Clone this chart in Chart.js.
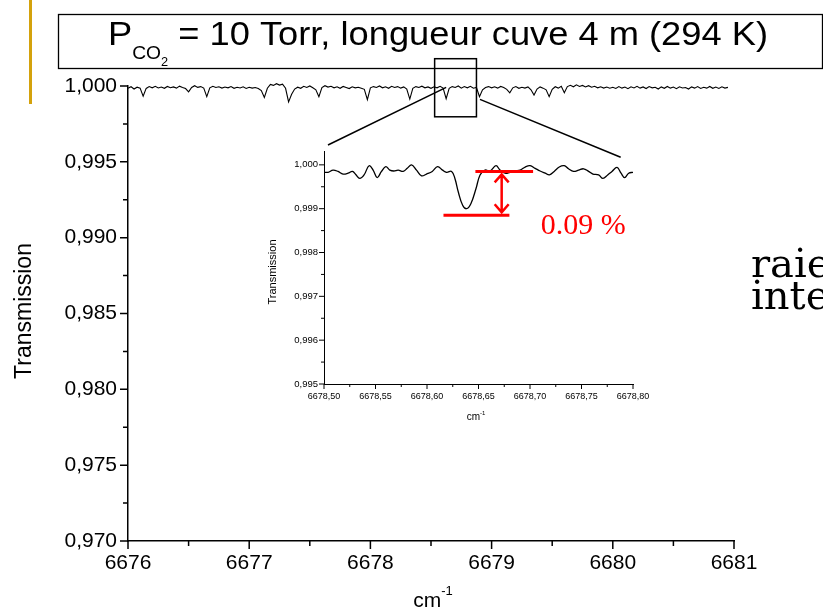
<!DOCTYPE html>
<html><head><meta charset="utf-8">
<script src="https://cdn.jsdelivr.net/npm/chart.js@4.4.1/dist/chart.umd.min.js"></script>
<style>
html,body{margin:0;padding:0;background:#fff;}
#wrap{position:relative;width:823px;height:615px;overflow:hidden;background:#fff;}
#main{position:absolute;left:0;top:0;}
#inset{position:absolute;left:250px;top:140px;}
</style></head><body>
<div id="wrap"><canvas id="main" width="823" height="615"></canvas><canvas id="inset" width="420" height="300"></canvas></div>
<script>
// ---------- DATA ----------
const mainX = [
6676.000,6676.025,6676.050,6676.075,6676.100,6676.125,6676.150,6676.175,6676.200,6676.225,
6676.250,6676.275,6676.300,6676.325,6676.350,6676.375,6676.400,6676.425,6676.450,6676.475,
6676.500,6676.525,6676.550,6676.575,6676.600,6676.625,6676.650,6676.675,6676.700,6676.725,
6676.750,6676.775,6676.800,6676.825,6676.850,6676.875,6676.900,6676.925,6676.950,6676.975,
6677.000,6677.025,6677.050,6677.075,6677.100,6677.125,6677.150,6677.175,6677.200,6677.225,
6677.250,6677.275,6677.300,6677.325,6677.350,6677.375,6677.400,6677.425,6677.450,6677.475,
6677.500,6677.525,6677.550,6677.575,6677.600,6677.625,6677.650,6677.675,6677.700,6677.725,
6677.750,6677.775,6677.800,6677.825,6677.850,6677.875,6677.900,6677.925,6677.950,6677.975,
6678.000,6678.025,6678.050,6678.075,6678.100,6678.125,6678.150,6678.175,6678.200,6678.225,
6678.250,6678.275,6678.300,6678.325,6678.350,6678.375,6678.400,6678.425,6678.450,6678.475,
6678.500,6678.525,6678.550,6678.575,6678.600,6678.625,6678.650,6678.675,6678.700,6678.725,
6678.750,6678.775,6678.800,6678.825,6678.850,6678.875,6678.900,6678.925,6678.950,6678.975,
6679.000,6679.025,6679.050,6679.075,6679.100,6679.125,6679.150,6679.175,6679.200,6679.225,
6679.250,6679.275,6679.300,6679.325,6679.350,6679.375,6679.400,6679.425,6679.450,6679.475,
6679.500,6679.525,6679.550,6679.575,6679.600,6679.625,6679.650,6679.675,6679.700,6679.725,
6679.750,6679.775,6679.800,6679.825,6679.850,6679.875,6679.900,6679.925,6679.950,6679.975,
6680.000,6680.025,6680.050,6680.075,6680.100,6680.125,6680.150,6680.175,6680.200,6680.225,
6680.250,6680.275,6680.300,6680.325,6680.350,6680.375,6680.400,6680.425,6680.450,6680.475,
6680.500,6680.525,6680.550,6680.575,6680.600,6680.625,6680.650,6680.675,6680.700,6680.725,
6680.750,6680.775,6680.800,6680.825,6680.850,6680.875,6680.900,6680.925,6680.950
];
const mainY = [
0.99985,0.99995,0.99980,0.99992,0.99986,0.99932,0.99984,0.99996,0.99988,0.99998,
0.99987,0.99993,0.99985,0.99997,0.99989,0.99994,0.99986,0.99999,0.99990,0.99983,
0.99962,0.99990,1.00002,0.99991,0.99996,0.99986,0.99930,0.99988,0.99998,0.99990,
0.99995,0.99986,0.99993,0.99988,0.99996,0.99985,0.99992,0.99987,0.99995,0.99984,
0.99992,0.99986,0.99990,0.99984,0.99970,0.99925,0.99985,1.00010,1.00004,1.00015,
1.00006,1.00012,0.99985,0.99895,0.99945,0.99980,0.99992,0.99985,0.99998,0.99990,
1.00000,0.99988,0.99975,0.99930,0.99990,1.00002,0.99993,0.99998,0.99988,0.99995,
0.99985,0.99997,0.99990,0.99983,0.99995,0.99988,0.99992,0.99985,0.99978,0.99910,
0.99988,0.99996,0.99990,1.00000,0.99988,0.99995,0.99985,0.99998,0.99990,0.99996,
0.99986,0.99994,0.99980,0.99914,0.99985,0.99996,0.99990,0.99999,0.99988,0.99994,
0.99985,0.99995,0.99988,0.99998,0.99986,0.99916,0.99985,0.99996,0.99990,1.00000,
0.99986,0.99996,0.99988,0.99998,0.99985,0.99990,0.99930,0.99975,0.99990,0.99996,
0.99988,0.99995,0.99986,0.99997,0.99990,0.99978,0.99955,0.99988,0.99996,0.99985,
0.99992,0.99986,0.99994,0.99975,0.99940,0.99980,0.99994,0.99986,0.99975,0.99930,
0.99978,0.99995,0.99986,0.99998,0.99955,0.99996,1.00005,0.99995,1.00008,0.99997,
1.00004,0.99994,1.00002,0.99992,0.99998,0.99988,0.99995,0.99986,0.99993,0.99985,
0.99992,0.99984,0.99996,0.99986,0.99993,0.99982,0.99995,0.99987,0.99998,0.99986,
0.99994,0.99983,0.99996,0.99988,0.99992,0.99980,0.99994,0.99985,0.99997,0.99986,
0.99993,0.99982,0.99995,0.99987,0.99990,0.99980,0.99994,0.99986,0.99996,0.99984,
0.99992,0.99986,0.99997,0.99985,0.99993,0.99984,0.99995,0.99986,0.99991
];
const mainXMajor = [6676, 6677, 6678, 6679, 6680, 6681];
const mainXLabels = ['6676', '6677', '6678', '6679', '6680', '6681'];
const mainXMinor = [6676.5, 6677.5, 6678.5, 6679.5, 6680.5];
const mainYMajor = [0.970, 0.975, 0.980, 0.985, 0.990, 0.995, 1.000];
const mainYLabels = ['0,970', '0,975', '0,980', '0,985', '0,990', '0,995', '1,000'];
const mainYMinor = [0.9725, 0.9775, 0.9825, 0.9875, 0.9925, 0.9975];

const insetX = [
6678.5000,6678.5039,6678.5088,6678.5136,6678.5185,6678.5234,6678.5276,6678.5308,6678.5347,6678.5389,
6678.5438,6678.5477,6678.5516,6678.5558,6678.5600,6678.5639,6678.5678,6678.5720,6678.5769,6678.5808,
6678.5850,6678.5898,6678.5947,6678.5995,6678.6051,6678.6103,6678.6151,6678.6190,6678.6239,6678.6271,
6678.6304,6678.6346,6678.6385,6678.6427,6678.6476,6678.6515,6678.6563,6678.6612,6678.6670,6678.6709,
6678.6758,6678.6806,6678.6855,6678.6904,6678.6953,6678.7001,6678.7050,6678.7098,6678.7147,6678.7189,
6678.7235,6678.7284,6678.7332,6678.7374,6678.7423,6678.7472,6678.7520,6678.7569,6678.7611,6678.7666,
6678.7708,6678.7754,6678.7796,6678.7845,6678.7884,6678.7919,6678.7958,6678.8000
];
const insetY = [
0.99983,0.99983,0.99988,0.99985,0.99979,0.99981,0.99985,0.99978,0.99969,0.99977,
0.99998,0.99988,0.99971,0.99985,0.99996,0.99988,0.99986,0.99988,0.99985,0.99992,
1.00000,0.99988,0.99975,0.99979,0.99985,0.99996,0.99988,0.99983,0.99985,0.99969,
0.99938,0.99908,0.99900,0.99912,0.99946,0.99977,0.99988,0.99986,0.99998,0.99988,
0.99981,0.99983,0.99986,0.99988,0.99995,0.99998,0.99992,0.99986,0.99981,0.99977,
0.99985,0.99995,0.99998,0.99991,0.99985,0.99988,0.99991,0.99985,0.99979,0.99977,
0.99969,0.99977,0.99985,0.99994,0.99981,0.99971,0.99981,0.99983
];
const insetXMajor = [6678.50, 6678.55, 6678.60, 6678.65, 6678.70, 6678.75, 6678.80];
const insetXLabels = ['6678,50', '6678,55', '6678,60', '6678,65', '6678,70', '6678,75', '6678,80'];
const insetXMinor = [6678.525, 6678.575, 6678.625, 6678.675, 6678.725, 6678.775];
const insetYMajor = [0.995, 0.996, 0.997, 0.998, 0.999, 1.000];
const insetYLabels = ['0,995', '0,996', '0,997', '0,998', '0,999', '1,000'];
const insetYMinor = [0.9955, 0.9965, 0.9975, 0.9985, 0.9995];
// depth annotation: baseline level and line-minimum level
const depthLevels = [0.99985, 0.99885];
const depthLabel = '0.09 %';

// ---------- HELPERS ----------
const SANS = "'Liberation Sans', Arial, sans-serif";
function drawTicks(ctx, area, xs, ys, o) {
  ctx.save();
  ctx.strokeStyle = '#000';
  ctx.lineWidth = o.lw;
  ctx.beginPath();
  const tx = (v, len) => { const x = xs.getPixelForValue(v); ctx.moveTo(x, area.bottom); ctx.lineTo(x, area.bottom + len); };
  const ty = (v, len) => { const y = ys.getPixelForValue(v); ctx.moveTo(area.left, y); ctx.lineTo(area.left - len, y); };
  o.xMaj.forEach(v => tx(v, o.maj)); o.xMin.forEach(v => tx(v, o.min));
  o.yMaj.forEach(v => ty(v, o.maj)); o.yMin.forEach(v => ty(v, o.min));
  ctx.stroke();
  ctx.restore();
}
function drawCm(ctx, cx, base, size) {
  ctx.save();
  ctx.fillStyle = '#000';
  ctx.font = size + 'px ' + SANS;
  const w1 = ctx.measureText('cm').width;
  const s2 = Math.round(size * 0.6);
  ctx.font = s2 + 'px ' + SANS;
  const w2 = ctx.measureText('-1').width;
  const x0 = cx - (w1 + w2) / 2;
  ctx.textAlign = 'left';
  ctx.textBaseline = 'alphabetic';
  ctx.font = size + 'px ' + SANS;
  ctx.fillText('cm', x0, base);
  ctx.font = s2 + 'px ' + SANS;
  ctx.fillText('-1', x0 + w1, base - size * 0.55);
  ctx.restore();
}
function drawVText(ctx, text, cx, cy, size) {
  ctx.save();
  ctx.translate(cx, cy);
  ctx.rotate(-Math.PI / 2);
  ctx.font = size + 'px ' + SANS;
  ctx.fillStyle = '#000';
  ctx.textAlign = 'center';
  ctx.textBaseline = 'middle';
  ctx.fillText(text, 0, 0);
  ctx.restore();
}

// ---------- MAIN CHART ----------
const mainPlugin = {
  id: 'mainDeco',
  afterDraw(chart) {
    const ctx = chart.ctx, a = chart.chartArea, xs = chart.scales.x, ys = chart.scales.y;
    drawTicks(ctx, a, xs, ys, { xMaj: mainXMajor, xMin: mainXMinor, yMaj: mainYMajor, yMin: mainYMinor, maj: 8, min: 5, lw: 1.5 });
    ctx.save();
    // yellow slide bar
    ctx.fillStyle = '#D4A20C';
    ctx.fillRect(29, 0, 3, 104);
    // title box
    ctx.strokeStyle = '#000';
    ctx.lineWidth = 1.3;
    ctx.strokeRect(58.5, 14.5, 764, 54);
    // title text (condensed to the box width)
    const parts = [
      { t: 'P', size: 34, dy: 0 },
      { t: 'CO', size: 18, dy: 14 },
      { t: '2', size: 12, dy: 21 },
      { t: ' = 10 Torr, longueur cuve 4 m (294 K)', size: 34, dy: 0 }
    ];
    let w = 0;
    parts.forEach(p => { ctx.font = p.size + 'px ' + SANS; p.w = ctx.measureText(p.t).width; w += p.w; });
    const x0 = 108, x1 = 768, base = 45, sx = (x1 - x0) / w;
    ctx.save();
    ctx.translate(x0, 0);
    ctx.scale(sx, 1);
    ctx.fillStyle = '#000';
    let xx = 0;
    parts.forEach(p => { ctx.font = p.size + 'px ' + SANS; ctx.fillText(p.t, xx, base + p.dy); xx += p.w; });
    ctx.restore();
    // zoom box on main spectrum
    const bx0 = xs.getPixelForValue(6678.53), bx1 = xs.getPixelForValue(6678.875);
    const by0 = ys.getPixelForValue(1.0018), by1 = ys.getPixelForValue(0.99797);
    ctx.lineWidth = 1.5;
    ctx.strokeRect(bx0, by0, bx1 - bx0, by1 - by0);
    // connectors to the inset
    ctx.beginPath();
    ctx.moveTo(xs.getPixelForValue(6678.625), ys.getPixelForValue(0.99991));
    ctx.lineTo(xs.getPixelForValue(6677.650), ys.getPixelForValue(0.99611));
    ctx.moveTo(xs.getPixelForValue(6678.904), ys.getPixelForValue(0.99912));
    ctx.lineTo(xs.getPixelForValue(6680.065), ys.getPixelForValue(0.99530));
    ctx.stroke();
    // slide text on the right (cut by the page edge)
    ctx.fillStyle = '#000';
    ctx.font = "40px 'DejaVu Serif', serif";
    ctx.fillText('raie', 751, 277);
    ctx.fillText('inte', 751, 309);
    ctx.restore();
    // axis titles
    drawVText(ctx, 'Transmission', 25, 311, 23);
    drawCm(ctx, 433, 607, 21);
  }
};

new Chart(document.getElementById('main'), {
  type: 'line',
  data: { datasets: [{ data: mainX.map((x, i) => ({ x: x, y: mainY[i] })), borderColor: '#000', borderWidth: 1.1, pointRadius: 0, tension: 0, fill: false, clip: false }] },
  options: {
    responsive: false, animation: false, events: [],
    layout: { padding: { top: 86, right: 89, left: 0, bottom: 0 } },
    plugins: { legend: { display: false }, tooltip: { enabled: false } },
    scales: {
      x: {
        type: 'linear', min: 6676, max: 6681,
        afterBuildTicks: s => { s.ticks = mainXMajor.map(v => ({ value: v })); },
        afterFit: s => { s.height = 74; },
        grid: { display: false, drawTicks: false, tickLength: 0 },
        border: { display: true, color: '#000', width: 1.5 },
        ticks: { autoSkip: false, maxRotation: 0, padding: 10, color: '#000', font: { family: SANS, size: 21 }, callback: (v, i) => mainXLabels[i] }
      },
      y: {
        type: 'linear', min: 0.970, max: 1.000,
        afterBuildTicks: s => { s.ticks = mainYMajor.map(v => ({ value: v })); },
        afterFit: s => { s.width = 128; },
        grid: { display: false, drawTicks: false, tickLength: 0 },
        border: { display: true, color: '#000', width: 1.5 },
        ticks: { autoSkip: false, padding: 11, color: '#000', font: { family: SANS, size: 21 }, callback: (v, i) => mainYLabels[i] }
      }
    }
  },
  plugins: [mainPlugin]
});

// ---------- INSET CHART ----------
const insetPlugin = {
  id: 'insetDeco',
  afterDraw(chart) {
    const ctx = chart.ctx, a = chart.chartArea, xs = chart.scales.x, ys = chart.scales.y;
    drawTicks(ctx, a, xs, ys, { xMaj: insetXMajor, xMin: insetXMinor, yMaj: insetYMajor, yMin: insetYMinor, maj: 5, min: 3, lw: 1 });
    drawVText(ctx, 'Transmission', 23, 132, 11);
    drawCm(ctx, 226, 280, 10);
    // red depth annotation
    ctx.save();
    ctx.strokeStyle = '#FF0000';
    ctx.fillStyle = '#FF0000';
    ctx.lineWidth = 3;
    const yU = ys.getPixelForValue(depthLevels[0]), yL = ys.getPixelForValue(depthLevels[1]);
    ctx.beginPath();
    ctx.moveTo(xs.getPixelForValue(6678.647), yU); ctx.lineTo(xs.getPixelForValue(6678.703), yU);
    ctx.moveTo(xs.getPixelForValue(6678.616), yL); ctx.lineTo(xs.getPixelForValue(6678.680), yL);
    ctx.stroke();
    const ax = xs.getPixelForValue(6678.6725);
    ctx.lineWidth = 2.5;
    ctx.beginPath();
    ctx.moveTo(ax, yU + 3); ctx.lineTo(ax, yL - 3);
    ctx.moveTo(ax - 7, yU + 11); ctx.lineTo(ax, yU + 3); ctx.lineTo(ax + 7, yU + 11);
    ctx.moveTo(ax - 7, yL - 11); ctx.lineTo(ax, yL - 3); ctx.lineTo(ax + 7, yL - 11);
    ctx.stroke();
    ctx.font = "30px 'Liberation Serif', 'Times New Roman', serif";
    ctx.textBaseline = 'alphabetic';
    ctx.fillText(depthLabel, xs.getPixelForValue(6678.7105), ys.getPixelForValue(0.99843));
    ctx.restore();
  }
};

new Chart(document.getElementById('inset'), {
  type: 'line',
  data: { datasets: [{ data: insetX.map((x, i) => ({ x: x, y: insetY[i] })), borderColor: '#000', borderWidth: 1.3, pointRadius: 0, tension: 0.4, fill: false, clip: false }] },
  options: {
    responsive: false, animation: false, events: [],
    layout: { padding: { top: 9, right: 37, left: 0, bottom: 0 } },
    plugins: { legend: { display: false }, tooltip: { enabled: false } },
    scales: {
      x: {
        type: 'linear', min: 6678.50, max: 6678.80,
        afterBuildTicks: s => { s.ticks = insetXMajor.map(v => ({ value: v })); },
        afterFit: s => { s.height = 56; },
        grid: { display: false, drawTicks: false, tickLength: 0 },
        border: { display: true, color: '#000', width: 1 },
        ticks: { autoSkip: false, maxRotation: 0, padding: 7, color: '#000', font: { family: SANS, size: 9 }, callback: (v, i) => insetXLabels[i] }
      },
      y: {
        type: 'linear', min: 0.995, max: 1.0003,
        afterBuildTicks: s => { s.ticks = insetYMajor.map(v => ({ value: v })); },
        afterFit: s => { s.width = 74; },
        grid: { display: false, drawTicks: false, tickLength: 0 },
        border: { display: true, color: '#000', width: 1 },
        ticks: { autoSkip: false, padding: 6, color: '#000', font: { family: SANS, size: 9.5 }, callback: (v, i) => insetYLabels[i] }
      }
    }
  },
  plugins: [insetPlugin]
});
</script></body></html>
